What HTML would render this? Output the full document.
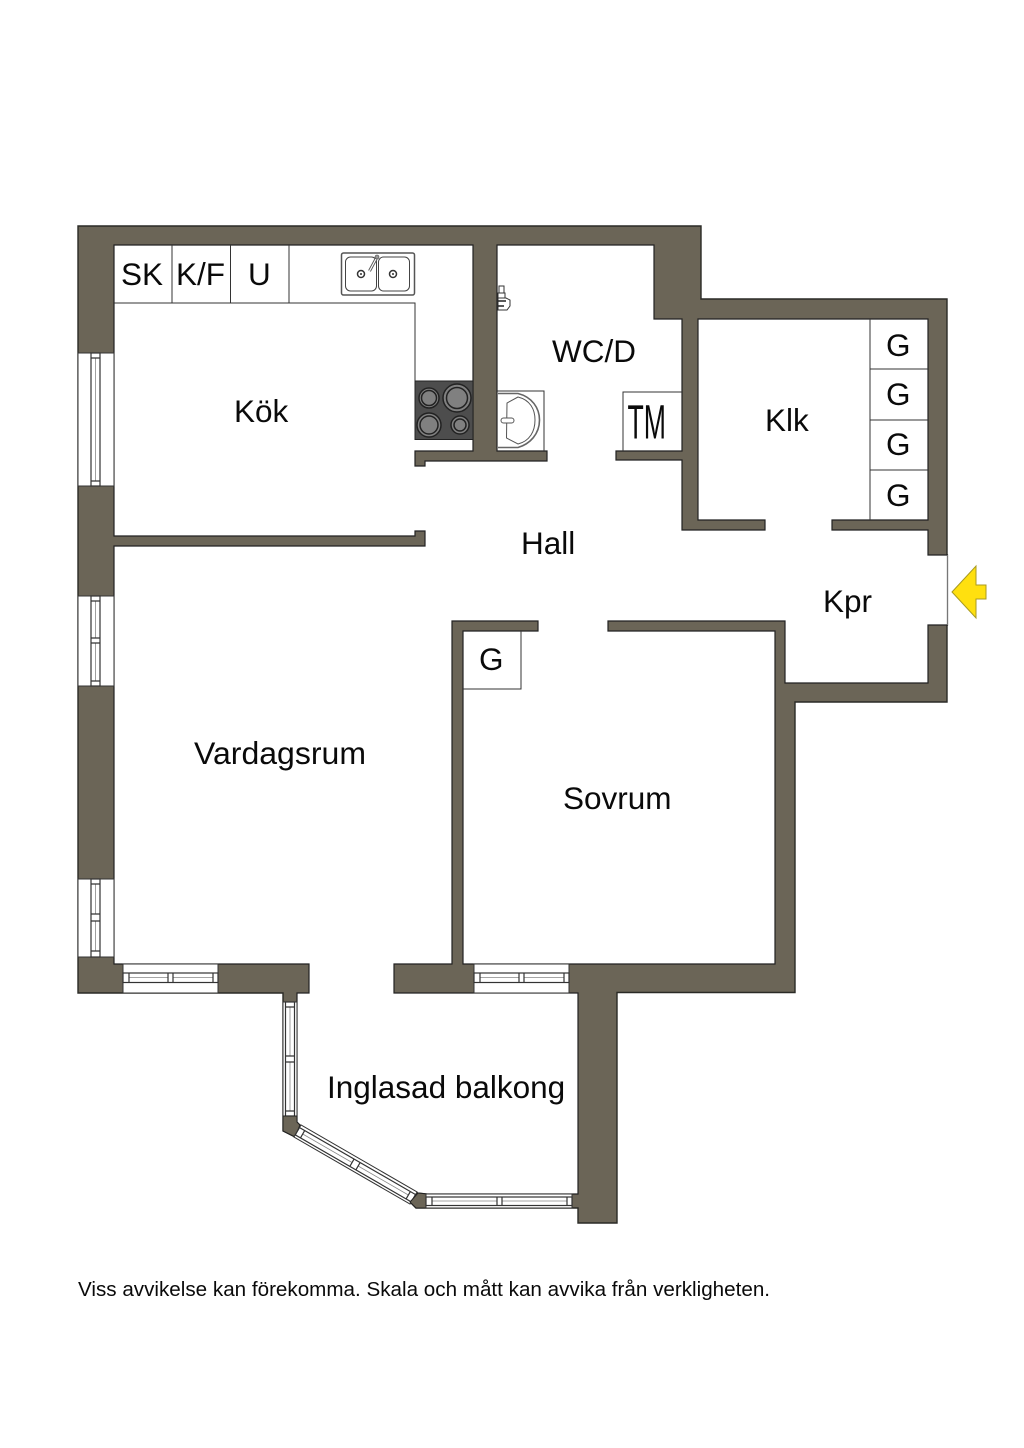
<!DOCTYPE html>
<html><head><meta charset="utf-8"><style>
html,body{margin:0;padding:0;background:#fff}
svg{display:block}
text{font-family:"Liberation Sans",Arial,sans-serif;fill:#0a0a0a;font-size:31.5px}
.f{fill:#fff;stroke:#333;stroke-width:1}
.g{fill:none;stroke:#333;stroke-width:1.200}
.m{fill:none;stroke:#888;stroke-width:.8}
.c{fill:none;stroke:#333;stroke-width:1}
</style></head><body>
<svg width="1024" height="1448" viewBox="0 0 1024 1448" xmlns="http://www.w3.org/2000/svg">
<rect width="1024" height="1448" fill="#fff"/>
<!-- walls -->
<polygon points="78,226 701,226 701,299 947,299 947,702 795,702 795,992.500 617,992.500 617,1223 578,1223 578,1208 416,1208 410,1202 295,1137 283,1131 283,993 78,993" fill="#6b6557" stroke="#2a2a26" stroke-width="1.400"/>
<polygon points="114,245 473,245 473,451 415,451 415,466 425,466 425,461 547,461 547,451 497,451 497,245 654,245 654,319 682,319 682,451 616,451 616,460 682,460 682,530 765,530 765,520 698,520 698,319 928,319 928,520 832,520 832,530 928,530 928,555 947.500,555 947.500,625 928,625 928,683 785,683 785,621 608,621 608,631 775,631 775,964 463,964 463,631 538,631 538,621 452,621 452,964 394,964 394,993 578,993 578,1194 427,1194 418,1193 300,1125 297,1122 297,993 309,993 309,964 114,964 114,546 425,546 425,531 415,531 415,536 114,536" fill="#fff" stroke="#222" stroke-width="1.200"/>
<line x1="947.500" y1="555" x2="947.500" y2="625" stroke="#777" stroke-width="1"/>
<rect x="310" y="965" width="83" height="29" fill="#fff"/>
<line x1="297" y1="993" x2="309" y2="993" stroke="#222"/>
<!-- left windows -->
<rect class="f" x="78" y="353" width="36" height="133"/>
<path class="m" d="M95.500,358V481"/>
<rect class="g" x="91" y="353" width="9" height="133"/>
<path class="g" d="M91,358H100M91,481H100"/>
<rect class="f" x="78" y="596" width="36" height="90"/>
<path class="m" d="M95.500,601V638M95.500,643V681"/>
<rect class="g" x="91" y="596" width="9" height="90"/>
<path class="g" d="M91,601H100M91,638H100M91,643H100M91,681H100"/>
<rect class="f" x="78" y="879" width="36" height="78"/>
<path class="m" d="M95.500,884V914M95.500,921V951"/>
<rect class="g" x="91" y="879" width="9" height="78"/>
<path class="g" d="M91,884H100M91,914H100M91,921H100M91,951H100"/>
<!-- bottom windows -->
<rect class="f" x="123" y="964" width="95" height="29"/>
<path class="m" d="M129,977.500H168M173,977.500H213"/>
<rect class="g" x="123" y="973" width="95" height="9.500"/>
<path class="g" d="M129,973V982.500M168,973V982.500M173,973V982.500M213,973V982.500"/>
<rect class="f" x="474" y="964" width="95" height="29"/>
<path class="m" d="M480,977.500H519M524,977.500H564"/>
<rect class="g" x="474" y="973" width="95" height="9.500"/>
<path class="g" d="M480,973V982.500M519,973V982.500M524,973V982.500M564,973V982.500"/>
<!-- balcony windows -->
<rect class="f" x="283" y="1002" width="14" height="114"/>
<path class="m" d="M290,1007V1056M290,1062V1111"/>
<rect class="g" x="285.500" y="1002" width="9" height="114"/>
<path class="g" d="M285.500,1007H294.500M285.500,1056H294.500M285.500,1062H294.500M285.500,1111H294.500"/>
<polygon points="283,1116 297,1116 297,1122 300,1125 295,1137 283,1131" fill="#6b6557" stroke="#222" stroke-width="1"/>
<g transform="translate(297.500,1131) rotate(30)">
<rect class="f" x="0" y="-7" width="134" height="14"/>
<rect class="g" x="0" y="-4" width="134" height="8.500"/>
<path class="m" d="M6,0H63M70,0H128"/>
<path class="g" d="M6,-4V4.500M63,-4V4.500M70,-4V4.500M128,-4V4.500"/>
</g>
<polygon points="418,1193 427,1194 427,1208 416,1208 410,1202" fill="#6b6557" stroke="#222" stroke-width="1"/>
<rect class="f" x="426" y="1194" width="146" height="14"/>
<path class="m" d="M432,1201H497M502,1201H567"/>
<rect class="g" x="426" y="1197" width="146" height="8.500"/>
<path class="g" d="M432,1197V1205.500M497,1197V1205.500M502,1197V1205.500M567,1197V1205.500"/>
<!-- kitchen -->
<path class="c" d="M114,303H415V381M172,245V303M230.500,245V303M289,245V303"/>
<rect x="415" y="381" width="58" height="58.500" fill="#4d4d4d" stroke="#222"/>
<g fill="#808080" stroke="#222" stroke-width="1.500">
<circle cx="429" cy="398" r="10"/><circle cx="429" cy="398" r="7.500"/>
<circle cx="457" cy="398" r="14"/><circle cx="457" cy="398" r="10.500"/>
<circle cx="429" cy="425" r="12"/><circle cx="429" cy="425" r="9"/>
<circle cx="460" cy="425" r="9"/><circle cx="460" cy="425" r="6"/>
</g>
<line x1="415" y1="451" x2="473" y2="451" stroke="#222"/>
<rect x="341.500" y="253" width="73" height="42" rx="2" fill="#fff" stroke="#555" stroke-width="1.500"/>
<rect x="345.500" y="257" width="31" height="34" rx="5" fill="#fff" stroke="#444"/>
<rect x="378.500" y="257" width="31" height="34" rx="5" fill="#fff" stroke="#444"/>
<circle cx="361" cy="274" r="3.500" fill="#fff" stroke="#333" stroke-width="1.500"/><circle cx="361" cy="274" r="1" fill="#333"/>
<circle cx="393" cy="274" r="3.500" fill="#fff" stroke="#333" stroke-width="1.500"/><circle cx="393" cy="274" r="1" fill="#333"/>
<line x1="376.500" y1="258" x2="369.500" y2="271" stroke="#555" stroke-width="3"/>
<line x1="376.500" y1="258" x2="369.500" y2="271" stroke="#fff" stroke-width="1.200"/>
<circle cx="377" cy="257" r="2" fill="#999" stroke="#444" stroke-width=".6"/>
<!-- WC fixtures -->
<path class="c" d="M497,391H544V451"/>
<path d="M498,393.500H518C532,397 539.500,408 539.500,420 C539.500,434 530,444 518,447.500H498" fill="none" stroke="#666" stroke-width="1.600"/>
<path d="M518,397 L507,403 L506.500,438 L518,444 C530,441 535,431 535,420 C535,409 530,400 518,397Z" fill="none" stroke="#555"/>
<rect x="501" y="418" width="13" height="5" rx="2.500" fill="#fff" stroke="#555"/>
<path d="M499,286h5v7h-5zM498,293h7v5h-7zM498,298h8l4,2v6l-3,4h-9z" fill="#fff" stroke="#333" stroke-width="1"/>
<path d="M498,301h8M498,306h6" stroke="#222" stroke-width="1.500"/>
<path class="c" d="M623,451V392H682"/>
<!-- closets -->
<path class="c" d="M870,319V520M870,369H928M870,420H928M870,470H928"/>
<path class="c" d="M463,689H521V631"/>
<!-- arrow -->
<polygon points="952,592 976,566 976,585 986,585 986,599 976,599 976,618" fill="#ffe00f" stroke="#a89a20" stroke-width="1"/>
<!-- labels -->
<text x="121" y="285">SK</text>
<text x="176" y="285">K/F</text>
<text x="248" y="285">U</text>
<text x="234" y="422">Kök</text>
<text x="552" y="362">WC/D</text>
<text transform="translate(627.500,438.500) scale(.74,1.330)" style="font-size:36px">TM</text>
<text x="765" y="431">Klk</text>
<text x="886" y="356">G</text>
<text x="886" y="405">G</text>
<text x="886" y="455">G</text>
<text x="886" y="506">G</text>
<text x="521" y="554">Hall</text>
<text x="823" y="612">Kpr</text>
<text x="479" y="670">G</text>
<text x="194" y="764" textLength="172" lengthAdjust="spacingAndGlyphs">Vardagsrum</text>
<text x="563" y="809">Sovrum</text>
<text x="327" y="1098">Inglasad balkong</text>
<text x="78" y="1296" style="font-size:20.630px">Viss avvikelse kan förekomma. Skala och mått kan avvika från verkligheten.</text>
</svg>
</body></html>
